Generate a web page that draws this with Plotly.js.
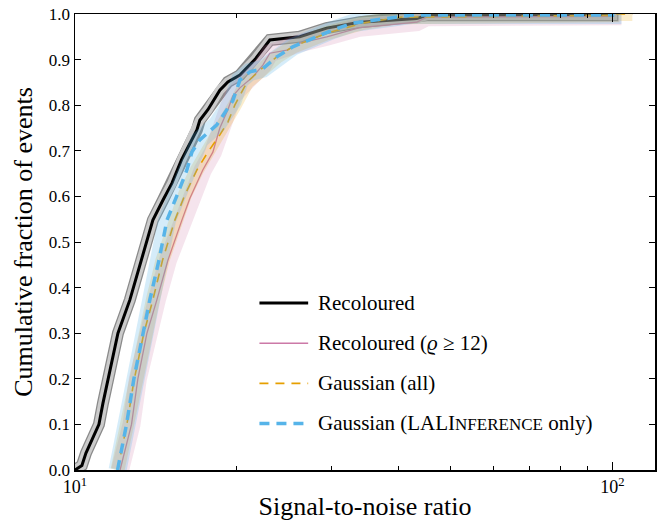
<!DOCTYPE html>
<html>
<head>
<meta charset="utf-8">
<script src="https://cdn.plot.ly/plotly-3.0.1.min.js"></script>
<style>
  html, body { margin: 0; padding: 0; background: #fff; }
  #chart { width: 668px; height: 521px; }
</style>
</head>
<body>
<div id="chart"></div>
<script>
// ---- Data (SNR, cumulative fraction) ----
const snrRecoloured = [10.00, 10.13, 10.30, 10.48, 10.70, 11.08, 11.27, 11.52, 11.77, 12.02, 12.65, 13.07, 13.30, 13.96, 14.58, 15.15, 15.78, 16.86, 17.07, 17.67, 18.60, 19.25, 20.27, 21.61, 23.04, 26.19, 29.40, 33.86, 43.23, 45.11, 100.0, 100.0];
const cdfRecoloured = [0.000, 0.005, 0.010, 0.037, 0.062, 0.100, 0.146, 0.200, 0.250, 0.300, 0.373, 0.430, 0.460, 0.548, 0.592, 0.629, 0.680, 0.746, 0.767, 0.790, 0.833, 0.851, 0.866, 0.900, 0.943, 0.950, 0.969, 0.982, 0.990, 0.997, 0.997, 1.000];

const snrRecoloured12 = [12.13, 12.74, 13.09, 13.61, 14.20, 14.89, 15.81, 16.36, 17.29, 18.05, 18.60, 19.25, 19.66, 20.27, 21.42, 22.36, 23.04, 24.78, 26.19, 29.40, 33.86, 43.23, 45.11, 100.0, 100.0];
const cdfRecoloured12 = [0.000, 0.100, 0.200, 0.300, 0.373, 0.460, 0.548, 0.596, 0.658, 0.697, 0.750, 0.790, 0.820, 0.838, 0.862, 0.888, 0.914, 0.921, 0.936, 0.950, 0.970, 0.982, 0.993, 0.995, 1.000];

const snrGaussAll = [12.00, 12.49, 12.87, 13.43, 13.96, 14.55, 15.34, 16.01, 16.86, 17.67, 18.60, 19.25, 19.83, 20.88, 22.08, 23.74, 25.42, 27.35, 29.40, 34.30, 40.18, 100.0, 100.0, 108.9];
const cdfGaussAll = [0.000, 0.100, 0.195, 0.300, 0.373, 0.460, 0.548, 0.603, 0.658, 0.697, 0.735, 0.763, 0.800, 0.850, 0.877, 0.906, 0.928, 0.943, 0.958, 0.980, 0.993, 0.997, 1.000, 1.000];

const snrGaussLALI = [12.00, 12.47, 12.87, 13.38, 13.78, 14.33, 14.83, 15.54, 16.15, 16.50, 17.07, 18.36, 19.66, 20.27, 21.15, 22.36, 23.74, 25.42, 30.17, 32.86, 42.49, 100.0, 100.0];
const cdfGaussLALI = [0.000, 0.100, 0.200, 0.300, 0.373, 0.460, 0.548, 0.607, 0.658, 0.697, 0.724, 0.757, 0.810, 0.855, 0.873, 0.880, 0.906, 0.928, 0.965, 0.980, 0.998, 0.998, 1.000];

const seriesNames = [
  'Recoloured',
  'Recoloured (<i>ϱ</i> ≥ 12)',
  'Gaussian (all)',
  'Gaussian (LALI<span style="font-size:17px">NFERENCE</span> only)'
];
const xTickVals = [10, 100];
const xTickText = ['10<sup>1</sup>', '10<sup>2</sup>'];
const xMinorVals = [20, 30, 40, 50, 60, 70, 80, 90];
const yTickVals = [0, 0.1, 0.2, 0.3, 0.4, 0.5, 0.6, 0.7, 0.8, 0.9, 1.0];

const FONT = 'Liberation Serif';

// line styles per series
const styles = [
  { color: '#000000', width: 3 },
  { color: '#CC79A7', width: 1.3 },
  { color: '#E69F00', width: 1.6, dash: '9px,7px' },
  { color: '#56B4E9', width: 3.5, dash: '10px,7px' }
];

function band(x, y, color, width) {
  return { x: x, y: y, type: 'scatter', mode: 'lines', showlegend: false, hoverinfo: 'skip',
           line: { color: color, width: width, shape: 'linear' } };
}
function main(x, y, i) {
  return { x: x, y: y, type: 'scatter', mode: 'lines', name: seriesNames[i], showlegend: false,
           line: styles[i] };
}

const traces = [
  band(snrRecoloured, cdfRecoloured, '#8a8a8a', 12),
  band(snrRecoloured, cdfRecoloured, '#cbcbcb', 9.5),
  main(snrRecoloured, cdfRecoloured, 0),
  band(snrRecoloured12, cdfRecoloured12, 'rgba(204,121,167,0.2)', 18),
  main(snrRecoloured12, cdfRecoloured12, 1),
  band(snrGaussAll, cdfGaussAll, 'rgba(230,159,0,0.2)', 14),
  main(snrGaussAll, cdfGaussAll, 2),
  band(snrGaussLALI, cdfGaussLALI, 'rgba(86,180,233,0.25)', 18),
  main(snrGaussLALI, cdfGaussLALI, 3)
];

// manual legend (longer line samples, as in the reference)
const legX0 = 0.318, legX1 = 0.402, legText = 0.416;
const legY = [0.366, 0.278, 0.190, 0.102];
const shapes = [], annotations = [];
for (let i = 0; i < 4; i++) {
  shapes.push({ type: 'line', xref: 'paper', yref: 'paper', x0: legX0, x1: legX1, y0: legY[i], y1: legY[i],
                line: styles[i] });
  annotations.push({ xref: 'paper', yref: 'paper', x: legText, y: legY[i], xanchor: 'left', yanchor: 'middle',
                     text: seriesNames[i], showarrow: false, font: { family: FONT, size: 21, color: '#000' } });
}

const layout = {
  width: 668, height: 521,
  margin: { l: 75, r: 13, t: 14, b: 51, pad: 0 },
  paper_bgcolor: '#ffffff', plot_bgcolor: '#ffffff',
  font: { family: FONT, size: 17, color: '#000' },
  showlegend: false,
  shapes: shapes,
  annotations: annotations,
  xaxis: {
    type: 'log', range: [1, Math.log10(120)],
    tickmode: 'array', tickvals: xTickVals, ticktext: xTickText,
    ticks: 'inside', ticklen: 8, tickwidth: 1, tickcolor: '#000',
    minor: { tickmode: 'array', tickvals: xMinorVals, ticks: 'inside', ticklen: 4, tickwidth: 1, tickcolor: '#000' },
    showline: true, linecolor: '#000', linewidth: 1.5, mirror: 'allticks',
    showgrid: false, zeroline: false,
    tickfont: { family: FONT, size: 18 },
    title: { text: 'Signal-to-noise ratio', font: { family: FONT, size: 26 }, standoff: 4 }
  },
  yaxis: {
    range: [0, 1], tickmode: 'array', tickvals: yTickVals, tickformat: '.1f',
    ticks: 'inside', ticklen: 6, tickwidth: 1, tickcolor: '#000',
    showline: true, linecolor: '#000', linewidth: 1.5, mirror: 'allticks',
    showgrid: false, zeroline: false,
    tickfont: { family: FONT, size: 17 },
    title: { text: 'Cumulative fraction of events', font: { family: FONT, size: 26 }, standoff: 8 }
  }
};

Plotly.newPlot('chart', traces, layout, { displayModeBar: false, staticPlot: true });
</script>
</body>
</html>
